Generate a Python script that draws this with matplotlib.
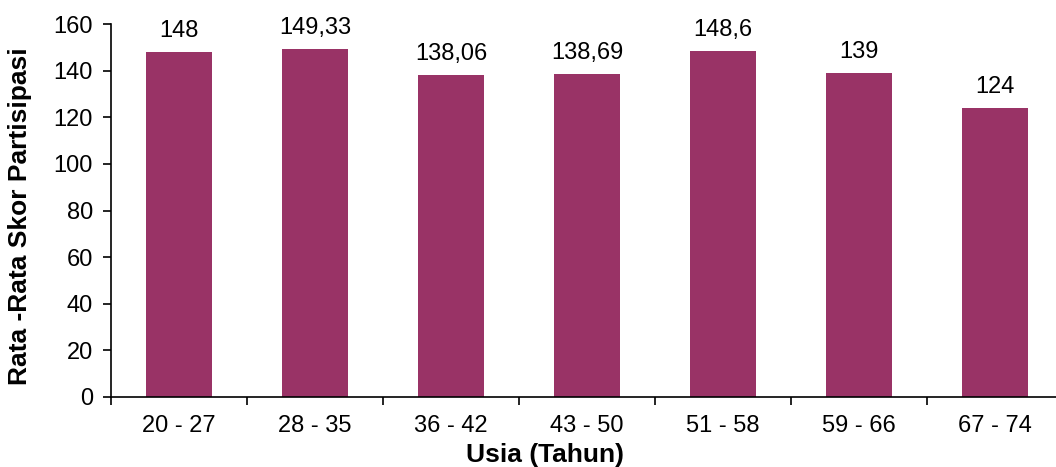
import matplotlib.pyplot as plt
import numpy as np

# average participation score per age group
groups = ['20 - 27', '28 - 35', '36 - 42', '43 - 50', '51 - 58', '59 - 66', '67 - 74']
scores = [148, 149.33, 138.06, 138.69, 148.6, 139, 124]
labels = ['148', '149,33', '138,06', '138,69', '148,6', '139', '124']

plt.rcParams['font.family'] = ['Liberation Sans', 'DejaVu Sans']

fig = plt.figure(figsize=(10.56, 4.67), dpi=100)
ax = fig.add_axes([0.1051, 0.1499, 0.9015, 0.7987])

x = np.arange(len(groups))
bars = ax.bar(x, scores, width=0.49, color='#993366')

for b, lab in zip(bars, labels):
    ax.annotate(lab, (b.get_x() + b.get_width() / 2, b.get_height()),
                xytext=(0, 7), textcoords='offset points',
                ha='center', va='bottom', fontsize=17)

ax.set_xlim(-0.5, len(groups) - 0.5)
ax.set_ylim(0, 160)
ax.set_yticks(np.arange(0, 161, 20))

# boundary ticks between categories, labels in the middle
ax.set_xticks(np.arange(len(groups) + 1) - 0.5)
ax.set_xticklabels([])
ax.set_xticks(x, minor=True)
ax.set_xticklabels(groups, minor=True)
ax.tick_params(axis='x', which='minor', length=0, pad=13, labelsize=17)
ax.tick_params(axis='x', which='major', length=6, width=1.2, direction='out')
ax.tick_params(axis='y', length=6, width=1.2, direction='out', labelsize=17, pad=7)

for s in ['top', 'right']:
    ax.spines[s].set_visible(False)
for s in ['left', 'bottom']:
    ax.spines[s].set_linewidth(1.2)

ax.set_ylabel('Rata -Rata Skor Partisipasi', fontsize=19, fontweight='bold')
ax.yaxis.set_label_coords(-0.083, 0.485)
ax.set_xlabel('Usia (Tahun)', fontsize=19, fontweight='bold')
ax.xaxis.set_label_coords(0.456, -0.122)

plt.savefig('out.png', dpi=100)
